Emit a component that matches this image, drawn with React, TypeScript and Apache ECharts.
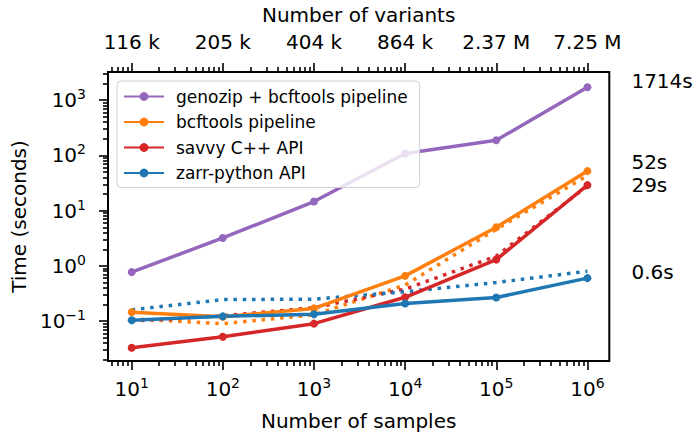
import React, { useEffect, useRef } from 'react';
import * as echarts from 'echarts';

const sampleCounts = [10, 100, 1000, 10000, 100000, 1000000];
const variantLabels = ['116 k', '205 k', '404 k', '864 k', '2.37 M', '7.25 M'];
const yMajorTicks = [0.1, 1, 10, 100, 1000];

const seriesNames = ['genozip + bcftools pipeline', 'bcftools pipeline', 'savvy C++ API', 'zarr-python API'];
const seriesColors = ['#9467bd', '#ff7f0e', '#d62728', '#1f77b4'];

const genozipTimes = [0.77, 3.2, 14.6, 108, 188, 1714];
const bcftoolsTimes = [0.145, 0.12, 0.17, 0.66, 5.0, 52];
const savvyTimes = [0.033, 0.052, 0.09, 0.27, 1.3, 29];
const zarrTimes = [0.104, 0.122, 0.133, 0.208, 0.267, 0.6];

const bcftoolsDotted = [0.11, 0.09, 0.13, 0.45, 4.6, 43];
const savvyDotted = [0.1, 0.125, 0.175, 0.38, 1.5, 28];
const zarrDotted = [0.16, 0.245, 0.25, 0.34, 0.5, 0.8];

const endLabels = ['1714s', '52s', '29s', '0.6s'];
const endLabelShift = [-6, -9, 0, -6];

const FONT = 'DejaVu Sans';
const X_MIN = Math.pow(10, 0.74);
const X_MAX = Math.pow(10, 6.24);
const Y_MIN = Math.pow(10, -1.722);
const Y_MAX = Math.pow(10, 3.51);

function minorTicks(lo: number, hi: number): number[] {
  const out: number[] = [];
  for (let e = -3; e <= 7; e++) {
    for (let m = 2; m <= 9; m++) {
      const v = m * Math.pow(10, e);
      if (v > lo && v < hi) out.push(v);
    }
  }
  return out;
}

const supRich = {
  b: { fontSize: 20, fontFamily: FONT, color: '#000', lineHeight: 26 },
  s: { fontSize: 14, fontFamily: FONT, color: '#000', verticalAlign: 'top', lineHeight: 13 },
};

function powLabel(v: number): string {
  const e = Math.round(Math.log10(v));
  return `{b|10}{s|${e < 0 ? '\u2212' + -e : e}}`;
}

const tickLine = { color: '#000', width: 1.6 };

function buildOption() {
  const xMinor = minorTicks(X_MIN, X_MAX);
  const yMinor = minorTicks(Y_MIN, Y_MAX);
  const solid = [genozipTimes, bcftoolsTimes, savvyTimes, zarrTimes];
  const dotted = [null, bcftoolsDotted, savvyDotted, zarrDotted];

  const series: any[] = [];
  dotted.forEach((vals, i) => {
    if (!vals) return;
    series.push({
      name: seriesNames[i] + ' (dotted)',
      type: 'line',
      xAxisIndex: 0,
      yAxisIndex: 0,
      symbol: 'none',
      data: sampleCounts.map((x, j) => [x, vals[j]]),
      lineStyle: { color: seriesColors[i], width: 3.5, type: [3.5, 5.8], cap: 'butt' },
      z: 2,
    });
  });
  solid.forEach((vals, i) => {
    series.push({
      name: seriesNames[i],
      type: 'line',
      xAxisIndex: 0,
      yAxisIndex: 0,
      symbol: 'circle',
      symbolSize: 8,
      color: seriesColors[i],
      itemStyle: { color: seriesColors[i] },
      lineStyle: { color: seriesColors[i], width: 3.5 },
      data: sampleCounts.map((x, j) => {
        if (j === sampleCounts.length - 1) {
          return {
            value: [x, vals[j]],
            label: {
              show: true,
              formatter: endLabels[i],
              position: 'right',
              distance: 40,
              offset: [0, endLabelShift[i]],
              fontSize: 20,
              lineHeight: 15,
              fontFamily: FONT,
              color: '#000',
            },
          };
        }
        return [x, vals[j]];
      }),
      z: 3,
    });
  });

  const baseX = {
    type: 'log',
    gridIndex: 0,
    min: X_MIN,
    max: X_MAX,
    splitLine: { show: false },
    axisLine: { show: false },
  };
  const baseY = {
    type: 'log',
    gridIndex: 0,
    min: Y_MIN,
    max: Y_MAX,
    splitLine: { show: false },
    axisLine: { show: false },
  };

  return {
    animation: false,
    backgroundColor: '#fff',
    textStyle: { fontFamily: FONT },
    grid: {
      left: 108,
      right: 90.7,
      top: 71,
      bottom: 82,
      show: true,
      borderColor: '#000',
      borderWidth: 2,
      backgroundColor: 'transparent',
    },
    legend: {
      data: seriesNames,
      orient: 'vertical',
      left: 117,
      top: 81,
      padding: [7, 12, 6, 6],
      itemWidth: 40,
      itemHeight: 11,
      itemGap: 8.5,
      backgroundColor: 'rgba(255,255,255,0.8)',
      borderColor: '#d0d0d0',
      borderWidth: 1,
      borderRadius: 4,
      selectedMode: false,
      textStyle: { fontSize: 17, fontFamily: FONT, color: '#000', padding: [0, 0, 0, 7] },
      z: 10,
    },
    xAxis: [
      {
        ...baseX,
        position: 'bottom',
        axisTick: { show: true, length: 9, lineStyle: tickLine, customValues: sampleCounts },
        axisLabel: { customValues: sampleCounts, formatter: powLabel, rich: supRich, margin: 15 },
        name: 'Number of samples',
        nameLocation: 'middle',
        nameGap: 50,
        nameTextStyle: { fontSize: 20, fontFamily: FONT, color: '#000' },
      },
      {
        ...baseX,
        position: 'bottom',
        axisTick: { show: true, length: 5, lineStyle: tickLine, customValues: xMinor },
        axisLabel: { show: false },
      },
      {
        ...baseX,
        position: 'top',
        axisTick: { show: true, length: 9, lineStyle: tickLine, customValues: sampleCounts },
        axisLabel: {
          customValues: sampleCounts,
          formatter: (v: number) => variantLabels[Math.round(Math.log10(v)) - 1],
          fontSize: 20,
          fontFamily: FONT,
          color: '#000',
          margin: 20,
        },
        name: 'Number of variants',
        nameLocation: 'middle',
        nameGap: 47,
        nameTextStyle: { fontSize: 20, fontFamily: FONT, color: '#000' },
      },
      {
        ...baseX,
        position: 'top',
        axisTick: { show: true, length: 5, lineStyle: tickLine, customValues: xMinor },
        axisLabel: { show: false },
      },
    ],
    yAxis: [
      {
        ...baseY,
        position: 'left',
        axisTick: { show: true, length: 9, lineStyle: tickLine, customValues: yMajorTicks },
        axisLabel: { customValues: yMajorTicks, formatter: powLabel, rich: supRich, margin: 22 },
        name: 'Time (seconds)',
        nameLocation: 'middle',
        nameRotate: 90,
        nameGap: 41,
        nameTextStyle: { fontSize: 20, fontFamily: FONT, color: '#000' },
      },
      {
        ...baseY,
        position: 'left',
        axisTick: { show: true, length: 5, lineStyle: tickLine, customValues: yMinor },
        axisLabel: { show: false },
      },
    ],
    series,
  };
}

export default function App() {
  const ref = useRef<HTMLDivElement>(null);
  useEffect(() => {
    if (!ref.current) return;
    const chart = echarts.init(ref.current, null, { renderer: 'svg' });
    chart.setOption(buildOption() as any);
    return () => chart.dispose();
  }, []);
  return (
    <div
      ref={ref}
      style={{ position: 'absolute', left: 0, top: 0, width: 700, height: 443, background: '#fff' }}
    />
  );
}
